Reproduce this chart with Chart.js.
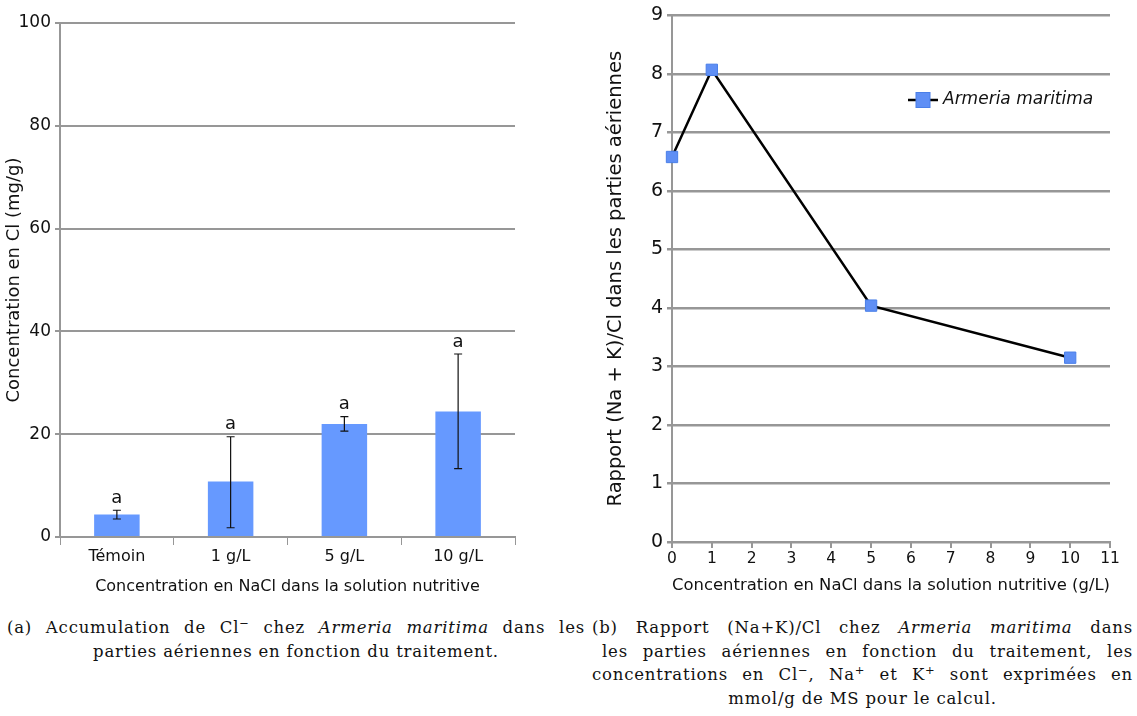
<!DOCTYPE html>
<html>
<head>
<meta charset="utf-8">
<script src="https://cdn.jsdelivr.net/npm/chart.js@4/dist/chart.umd.min.js"></script>
<style>
  body { margin: 0; background: #fff; width: 1137px; height: 716px; position: relative; overflow: hidden; }
  #wrapA { position: absolute; left: 0; top: 0; width: 530px; height: 600px; }
  #wrapB { position: absolute; left: 600px; top: 0; width: 537px; height: 600px; }
  .cap { position: absolute; font-family: "DejaVu Serif", "Liberation Serif", serif; font-size: 16.5px; letter-spacing: 0.8px; color: #111; }
  .cap div { height: 23.6px; line-height: 23.6px; white-space: nowrap; }
  .cap .full { text-align: justify; text-align-last: justify; }
  .cap .last { text-align: center; }
  sup { font-size: 0.7em; line-height: 0; }
</style>
</head>
<body>
<div id="wrapA"><canvas id="chartA"></canvas></div>
<div id="wrapB"><canvas id="chartB"></canvas></div>

<div class="cap" style="left:7px; top:616px; width:578px;">
  <div class="full">(a) Accumulation de Cl<sup>−</sup> chez <i>Armeria maritima</i> dans les</div>
  <div class="last">parties aériennes en fonction du traitement.</div>
</div>
<div class="cap" style="left:592px; top:616px; width:541px;">
  <div class="full">(b) Rapport (Na+K)/Cl chez <i>Armeria maritima</i> dans</div>
  <div class="full" style="margin-left:10px;">les parties aériennes en fonction du traitement, les</div>
  <div class="full">concentrations en Cl<sup>−</sup>, Na<sup>+</sup> et K<sup>+</sup> sont exprimées en</div>
  <div class="last">mmol/g de MS pour le calcul.</div>
</div>

<script>
// chart (a): Cl accumulation
const treatments = ['Témoin', '1 g/L', '5 g/L', '10 g/L'];
const clValues = [4.4, 10.8, 22.0, 24.4];
const clErrHigh = [5.2, 19.5, 23.4, 35.6];
const clErrLow = [3.5, 1.8, 20.6, 13.3];
const clLetters = ['a', 'a', 'a', 'a'];

// chart (b): (Na+K)/Cl ratio
const naclDoses = [0, 1, 5, 10];
const ratioValues = [6.58, 8.07, 4.04, 3.15];

const gridGrey = '#979797';
const barBlue = '#6699ff';
const font = 'DejaVu Sans';

Chart.defaults.font.family = font;
Chart.defaults.color = '#111';
Chart.defaults.animation = false;
Chart.defaults.responsive = true;
Chart.defaults.maintainAspectRatio = false;

// error bars + letters over bars
const errorBars = {
  id: 'errorBars',
  afterDatasetsDraw(chart) {
    const ctx = chart.ctx;
    const x = chart.scales.x, y = chart.scales.y;
    ctx.save();
    ctx.strokeStyle = '#111';
    ctx.lineWidth = 1.2;
    ctx.fillStyle = '#111';
    ctx.font = '18px ' + font;
    ctx.textAlign = 'center';
    ctx.textBaseline = 'bottom';
    treatments.forEach((t, i) => {
      const cx = x.getPixelForValue(i);
      const yh = y.getPixelForValue(clErrHigh[i]);
      const yl = y.getPixelForValue(clErrLow[i]);
      ctx.beginPath();
      ctx.moveTo(cx, yh); ctx.lineTo(cx, yl);
      ctx.moveTo(cx - 4, yh); ctx.lineTo(cx + 4, yh);
      ctx.moveTo(cx - 4, yl); ctx.lineTo(cx + 4, yl);
      ctx.stroke();
      ctx.fillText(clLetters[i], cx, yh - 3);
    });
    ctx.restore();
  }
};

new Chart(document.getElementById('chartA'), {
  type: 'bar',
  data: {
    labels: treatments,
    datasets: [{ data: clValues, backgroundColor: barBlue, categoryPercentage: 1, barPercentage: 0.4 }]
  },
  options: {
    layout: { padding: { top: 23, right: 15, left: 0, bottom: 0 } },
    plugins: { legend: { display: false }, tooltip: { enabled: false } },
    scales: {
      x: {
        grid: { drawOnChartArea: false, drawTicks: true, tickLength: 8, color: gridGrey },
        border: { color: gridGrey, width: 2 },
        ticks: { font: { size: 16 }, padding: 2 },
        title: { display: true, text: 'Concentration en NaCl dans la solution nutritive', font: { size: 16 }, padding: { top: 4 } },
        afterFit(s) { s.height = 63; }
      },
      y: {
        min: 0, max: 100,
        ticks: { stepSize: 20, font: { size: 17 }, padding: 4 },
        grid: { color: gridGrey, lineWidth: 2, tickLength: 5 },
        border: { color: gridGrey, width: 2 },
        title: { display: true, text: 'Concentration en Cl (mg/g)', font: { size: 18 }, padding: { bottom: 2 } },
        afterFit(s) { s.width = 60; }
      }
    }
  },
  plugins: [errorBars]
});

// legend drawn inside the plot area
const innerLegend = {
  id: 'innerLegend',
  afterDraw(chart) {
    const ds = chart.data.datasets[0];
    const ctx = chart.ctx;
    const lx = 323, ly = 100;
    ctx.save();
    ctx.strokeStyle = ds.borderColor;
    ctx.lineWidth = 2.5;
    ctx.beginPath(); ctx.moveTo(lx - 15, ly); ctx.lineTo(lx + 15, ly); ctx.stroke();
    ctx.fillStyle = ds.pointBackgroundColor;
    ctx.strokeStyle = ds.pointBorderColor;
    ctx.lineWidth = 1;
    ctx.fillRect(lx - 7, ly - 7.5, 14, 15);
    ctx.strokeRect(lx - 7, ly - 7.5, 14, 15);
    ctx.fillStyle = '#111';
    ctx.font = 'italic 17px ' + font;
    ctx.textAlign = 'left';
    ctx.textBaseline = 'middle';
    ctx.fillText(ds.label, lx + 20, ly);
    ctx.restore();
  }
};

new Chart(document.getElementById('chartB'), {
  type: 'line',
  data: {
    datasets: [{
      label: 'Armeria maritima',
      data: naclDoses.map((d, i) => ({ x: d, y: ratioValues[i] })),
      borderColor: '#000',
      borderWidth: 2.5,
      pointStyle: 'rect',
      pointRadius: 8,
      pointBackgroundColor: '#5f8ff5',
      pointBorderColor: '#4a7fe8',
      pointBorderWidth: 1,
      clip: false
    }]
  },
  options: {
    layout: { padding: { top: 15, right: 27, left: 0, bottom: 0 } },
    plugins: { legend: { display: false }, tooltip: { enabled: false } },
    scales: {
      x: {
        type: 'linear', min: 0, max: 11,
        ticks: { stepSize: 1, font: { size: 15.5 }, padding: 2 },
        grid: { drawOnChartArea: false, tickLength: 6, color: gridGrey, lineWidth: 2 },
        border: { color: gridGrey, width: 2 },
        title: { display: true, text: 'Concentration en NaCl dans la solution nutritive (g/L)', font: { size: 16.7 }, padding: { top: 1 } },
        afterFit(s) { s.height = 58; }
      },
      y: {
        min: 0, max: 9,
        ticks: { stepSize: 1, font: { size: 19 }, padding: 4 },
        grid: { color: gridGrey, lineWidth: 2.5, tickLength: 5 },
        border: { color: gridGrey, width: 2 },
        title: { display: true, text: 'Rapport (Na + K)/Cl dans les parties aériennes', font: { size: 19.5 }, padding: { bottom: 2 } },
        afterFit(s) { s.width = 72; }
      }
    }
  },
  plugins: [innerLegend]
});
</script>
</body>
</html>
